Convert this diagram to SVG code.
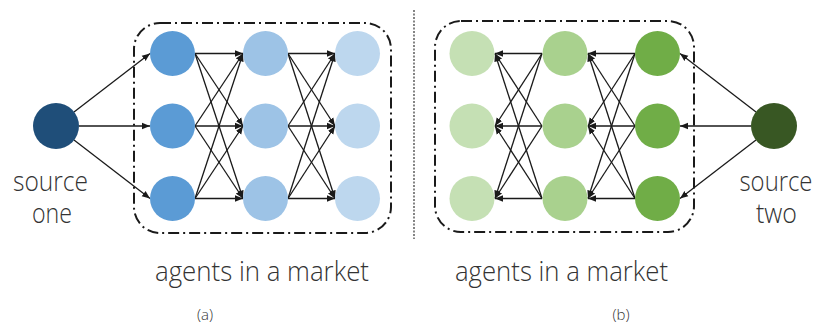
<svg xmlns="http://www.w3.org/2000/svg" width="816" height="325" viewBox="0 0 816 325">
<defs>
<style>
.lbl{font-family:"Open Sans","Noto Sans",sans-serif;font-weight:300;fill:#333;text-anchor:middle}
.big{font-size:27px}
.sm{font-size:15px}
.box{fill:none;stroke:#1a1a1a;stroke-width:2;stroke-dasharray:11 4 2 4}
.c line{stroke:#1a1a1a;stroke-width:1.3;marker-end:url(#ah)}
</style>
<marker id="ah" markerUnits="userSpaceOnUse" markerWidth="8" markerHeight="8" viewBox="0 0 8 8" refX="8" refY="4" orient="auto">
<path d="M0,0.8 L8,4 L0,7.2 z" fill="#1a1a1a"/>
</marker>
</defs>
<rect width="816" height="325" fill="#fff"/>

<rect class="box" x="134" y="23" width="257" height="210" rx="26"/>
<rect class="box" x="435" y="21" width="259" height="211" rx="26"/>
<line x1="414" y1="10" x2="414" y2="239" stroke="#333" stroke-width="1.2" stroke-dasharray="2 1.5"/>

<g id="connectors" class="c">
<line x1="74" y1="112" x2="150" y2="53.5"/>
<line x1="79" y1="126" x2="150" y2="126"/>
<line x1="74" y1="140" x2="150" y2="198.5"/>
<line x1="195" y1="53.5" x2="243" y2="53.5"/><line x1="195" y1="53.5" x2="243" y2="126"/><line x1="195" y1="53.5" x2="243" y2="198.5"/>
<line x1="195" y1="126" x2="243" y2="53.5"/><line x1="195" y1="126" x2="243" y2="126"/><line x1="195" y1="126" x2="243" y2="198.5"/>
<line x1="195" y1="198.5" x2="243" y2="53.5"/><line x1="195" y1="198.5" x2="243" y2="126"/><line x1="195" y1="198.5" x2="243" y2="198.5"/>
<line x1="288" y1="53.5" x2="335" y2="53.5"/><line x1="288" y1="53.5" x2="335" y2="126"/><line x1="288" y1="53.5" x2="335" y2="198.5"/>
<line x1="288" y1="126" x2="335" y2="53.5"/><line x1="288" y1="126" x2="335" y2="126"/><line x1="288" y1="126" x2="335" y2="198.5"/>
<line x1="288" y1="198.5" x2="335" y2="53.5"/><line x1="288" y1="198.5" x2="335" y2="126"/><line x1="288" y1="198.5" x2="335" y2="198.5"/>

<line x1="756" y1="112" x2="680" y2="53.5"/>
<line x1="751" y1="126" x2="680" y2="126"/>
<line x1="756" y1="140" x2="680" y2="198.5"/>
<line x1="635" y1="53.5" x2="588" y2="53.5"/><line x1="635" y1="53.5" x2="588" y2="126"/><line x1="635" y1="53.5" x2="588" y2="198.5"/>
<line x1="635" y1="126" x2="588" y2="53.5"/><line x1="635" y1="126" x2="588" y2="126"/><line x1="635" y1="126" x2="588" y2="198.5"/>
<line x1="635" y1="198.5" x2="588" y2="53.5"/><line x1="635" y1="198.5" x2="588" y2="126"/><line x1="635" y1="198.5" x2="588" y2="198.5"/>
<line x1="542" y1="53.5" x2="495" y2="53.5"/><line x1="542" y1="53.5" x2="495" y2="126"/><line x1="542" y1="53.5" x2="495" y2="198.5"/>
<line x1="542" y1="126" x2="495" y2="53.5"/><line x1="542" y1="126" x2="495" y2="126"/><line x1="542" y1="126" x2="495" y2="198.5"/>
<line x1="542" y1="198.5" x2="495" y2="53.5"/><line x1="542" y1="198.5" x2="495" y2="126"/><line x1="542" y1="198.5" x2="495" y2="198.5"/>
</g>

<g id="source-one"><circle cx="56" cy="126" r="23" fill="#1F4E79"/></g>
<g id="a1"><circle cx="172.5" cy="53.5" r="22.5" fill="#5B9BD5"/></g>
<g id="a2"><circle cx="172.5" cy="126" r="22.5" fill="#5B9BD5"/></g>
<g id="a3"><circle cx="172.5" cy="198.5" r="22.5" fill="#5B9BD5"/></g>
<g id="a4"><circle cx="265.5" cy="53.5" r="22.5" fill="#9DC3E6"/></g>
<g id="a5"><circle cx="265.5" cy="126" r="22.5" fill="#9DC3E6"/></g>
<g id="a6"><circle cx="265.5" cy="198.5" r="22.5" fill="#9DC3E6"/></g>
<g id="a7"><circle cx="357.5" cy="53.5" r="22.5" fill="#BDD7EE"/></g>
<g id="a8"><circle cx="357.5" cy="126" r="22.5" fill="#BDD7EE"/></g>
<g id="a9"><circle cx="357.5" cy="198.5" r="22.5" fill="#BDD7EE"/></g>

<g id="b1"><circle cx="472" cy="53.5" r="22.5" fill="#C5E0B4"/></g>
<g id="b2"><circle cx="472" cy="126" r="22.5" fill="#C5E0B4"/></g>
<g id="b3"><circle cx="472" cy="198.5" r="22.5" fill="#C5E0B4"/></g>
<g id="b4"><circle cx="565" cy="53.5" r="22.5" fill="#A9D18E"/></g>
<g id="b5"><circle cx="565" cy="126" r="22.5" fill="#A9D18E"/></g>
<g id="b6"><circle cx="565" cy="198.5" r="22.5" fill="#A9D18E"/></g>
<g id="b7"><circle cx="657.5" cy="53.5" r="22.5" fill="#70AD47"/></g>
<g id="b8"><circle cx="657.5" cy="126" r="22.5" fill="#70AD47"/></g>
<g id="b9"><circle cx="657.5" cy="198.5" r="22.5" fill="#70AD47"/></g>
<g id="source-two"><circle cx="774" cy="126" r="23" fill="#385723"/></g>

<g id="labels">
<text class="lbl big" x="50.5" y="191" textLength="75" lengthAdjust="spacingAndGlyphs">source</text>
<text class="lbl big" x="52" y="223" textLength="40" lengthAdjust="spacingAndGlyphs">one</text>
<text class="lbl big" x="776" y="191" textLength="73" lengthAdjust="spacingAndGlyphs">source</text>
<text class="lbl big" x="776.5" y="223" textLength="41" lengthAdjust="spacingAndGlyphs">two</text>
<text class="lbl big" x="262" y="281" textLength="214" lengthAdjust="spacingAndGlyphs">agents in a market</text>
<text class="lbl big" x="561.5" y="281" textLength="213" lengthAdjust="spacingAndGlyphs">agents in a market</text>
<text class="lbl sm" x="205" y="320">(a)</text>
<text class="lbl sm" x="621" y="320">(b)</text>
</g>
</svg>
